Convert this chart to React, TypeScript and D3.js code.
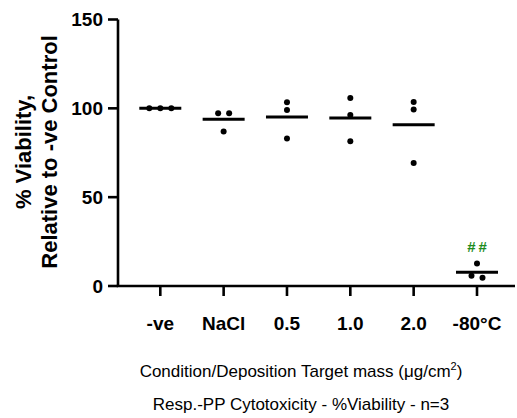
import React from "react";
import * as d3 from "d3";

const categories = ["-ve", "NaCl", "0.5", "1.0", "2.0", "-80°C"];
const viability: number[][] = [
  [100, 100, 100],
  [97.2, 97.2, 87.0],
  [103.4, 99.1, 83.0],
  [105.8, 96.3, 81.5],
  [103.6, 99.3, 69.2],
  [12.7, 4.6, 5.8],
];
const yTicks = [0, 50, 100, 150];
const significance = ["", "", "", "", "", "##"];
const yTitle = ["% Viability,", "Relative to -ve Control"];
const xTitle = "Condition/Deposition Target mass (μg/cm";
const subtitle = "Resp.-PP Cytotoxicity - %Viability - n=3";

const W = 517;
const H = 418;
const axisX = 118;
const axisY = 286;
const axisRight = 515;

export default function App() {
  const y = d3.scaleLinear().domain([0, 150]).range([axisY, 19.5]);
  const x = d3.scalePoint<string>().domain(categories).range([160.3, 477]);
  const font = "Arial, 'Liberation Sans', sans-serif";

  const dots: { cx: number; cy: number; key: string }[] = [];
  viability.forEach((vals, gi) => {
    const cx0 = x(categories[gi])!;
    const sorted = vals.map((v, i) => ({ v, i, py: y(v) })).sort((a, b) => a.py - b.py);
    const clusters: typeof sorted[] = [];
    sorted.forEach((p) => {
      const last = clusters[clusters.length - 1];
      if (last && Math.abs(p.py - last[last.length - 1].py) < 6) last.push(p);
      else clusters.push([p]);
    });
    clusters.forEach((cl) => {
      cl.forEach((p, k) => {
        const off = (k - (cl.length - 1) / 2) * 11;
        dots.push({ cx: cx0 + off, cy: p.py, key: `${gi}-${p.i}` });
      });
    });
  });

  return (
    <svg width={W} height={H} style={{ position: "absolute", left: 0, top: 0, background: "#fff" }} fontFamily={font}>
      {/* y axis */}
      <line x1={axisX} x2={axisX} y1={y(150)} y2={axisY} stroke="#000" strokeWidth={2.6} />
      {yTicks.map((t) => (
        <g key={t}>
          <line x1={axisX - 10} x2={axisX} y1={y(t)} y2={y(t)} stroke="#000" strokeWidth={2.6} />
          <text x={103} y={y(t)} dy="0.36em" textAnchor="end" fontSize={19} fontWeight="bold">
            {t}
          </text>
        </g>
      ))}
      {/* x axis */}
      <line x1={axisX - 1.3} x2={axisRight} y1={axisY} y2={axisY} stroke="#000" strokeWidth={2.6} />
      {categories.map((c) => (
        <g key={c}>
          <line x1={x(c)} x2={x(c)} y1={axisY} y2={axisY + 10} stroke="#000" strokeWidth={2.6} />
          <text x={x(c)} y={330} textAnchor="middle" fontSize={19} fontWeight="bold">
            {c}
          </text>
        </g>
      ))}
      {/* means */}
      {viability.map((vals, gi) => {
        const m = d3.mean(vals)!;
        const cx = x(categories[gi])!;
        return <line key={gi} x1={cx - 21} x2={cx + 21} y1={y(m)} y2={y(m)} stroke="#000" strokeWidth={3} />;
      })}
      {/* dots */}
      {dots.map((d) => (
        <circle key={d.key} cx={d.cx} cy={d.cy} r={3} fill="#000" />
      ))}
      {/* significance */}
      {significance.map((s, gi) =>
        s ? (
          <text key={gi} x={x(categories[gi])! + 1.5} y={252} textAnchor="middle" fontSize={15} fontWeight="bold" fill="#1e8c1e" letterSpacing={3}>
            {s}
          </text>
        ) : null
      )}
      {/* y title */}
      <g transform="translate(31,152) rotate(-90)">
        <text x={0} y={0} textAnchor="middle" fontSize={22} fontWeight="bold">{yTitle[0]}</text>
      </g>
      <g transform="translate(57,152) rotate(-90)">
        <text x={0} y={0} textAnchor="middle" fontSize={22} fontWeight="bold">{yTitle[1]}</text>
      </g>
      {/* x title */}
      <text x={301} y={377} textAnchor="middle" fontSize={17}>
        {xTitle}
        <tspan dy={-7} fontSize={11}>2</tspan>
        <tspan dy={7}>)</tspan>
      </text>
      <text x={301} y={410} textAnchor="middle" fontSize={17}>
        {subtitle}
      </text>
    </svg>
  );
}
